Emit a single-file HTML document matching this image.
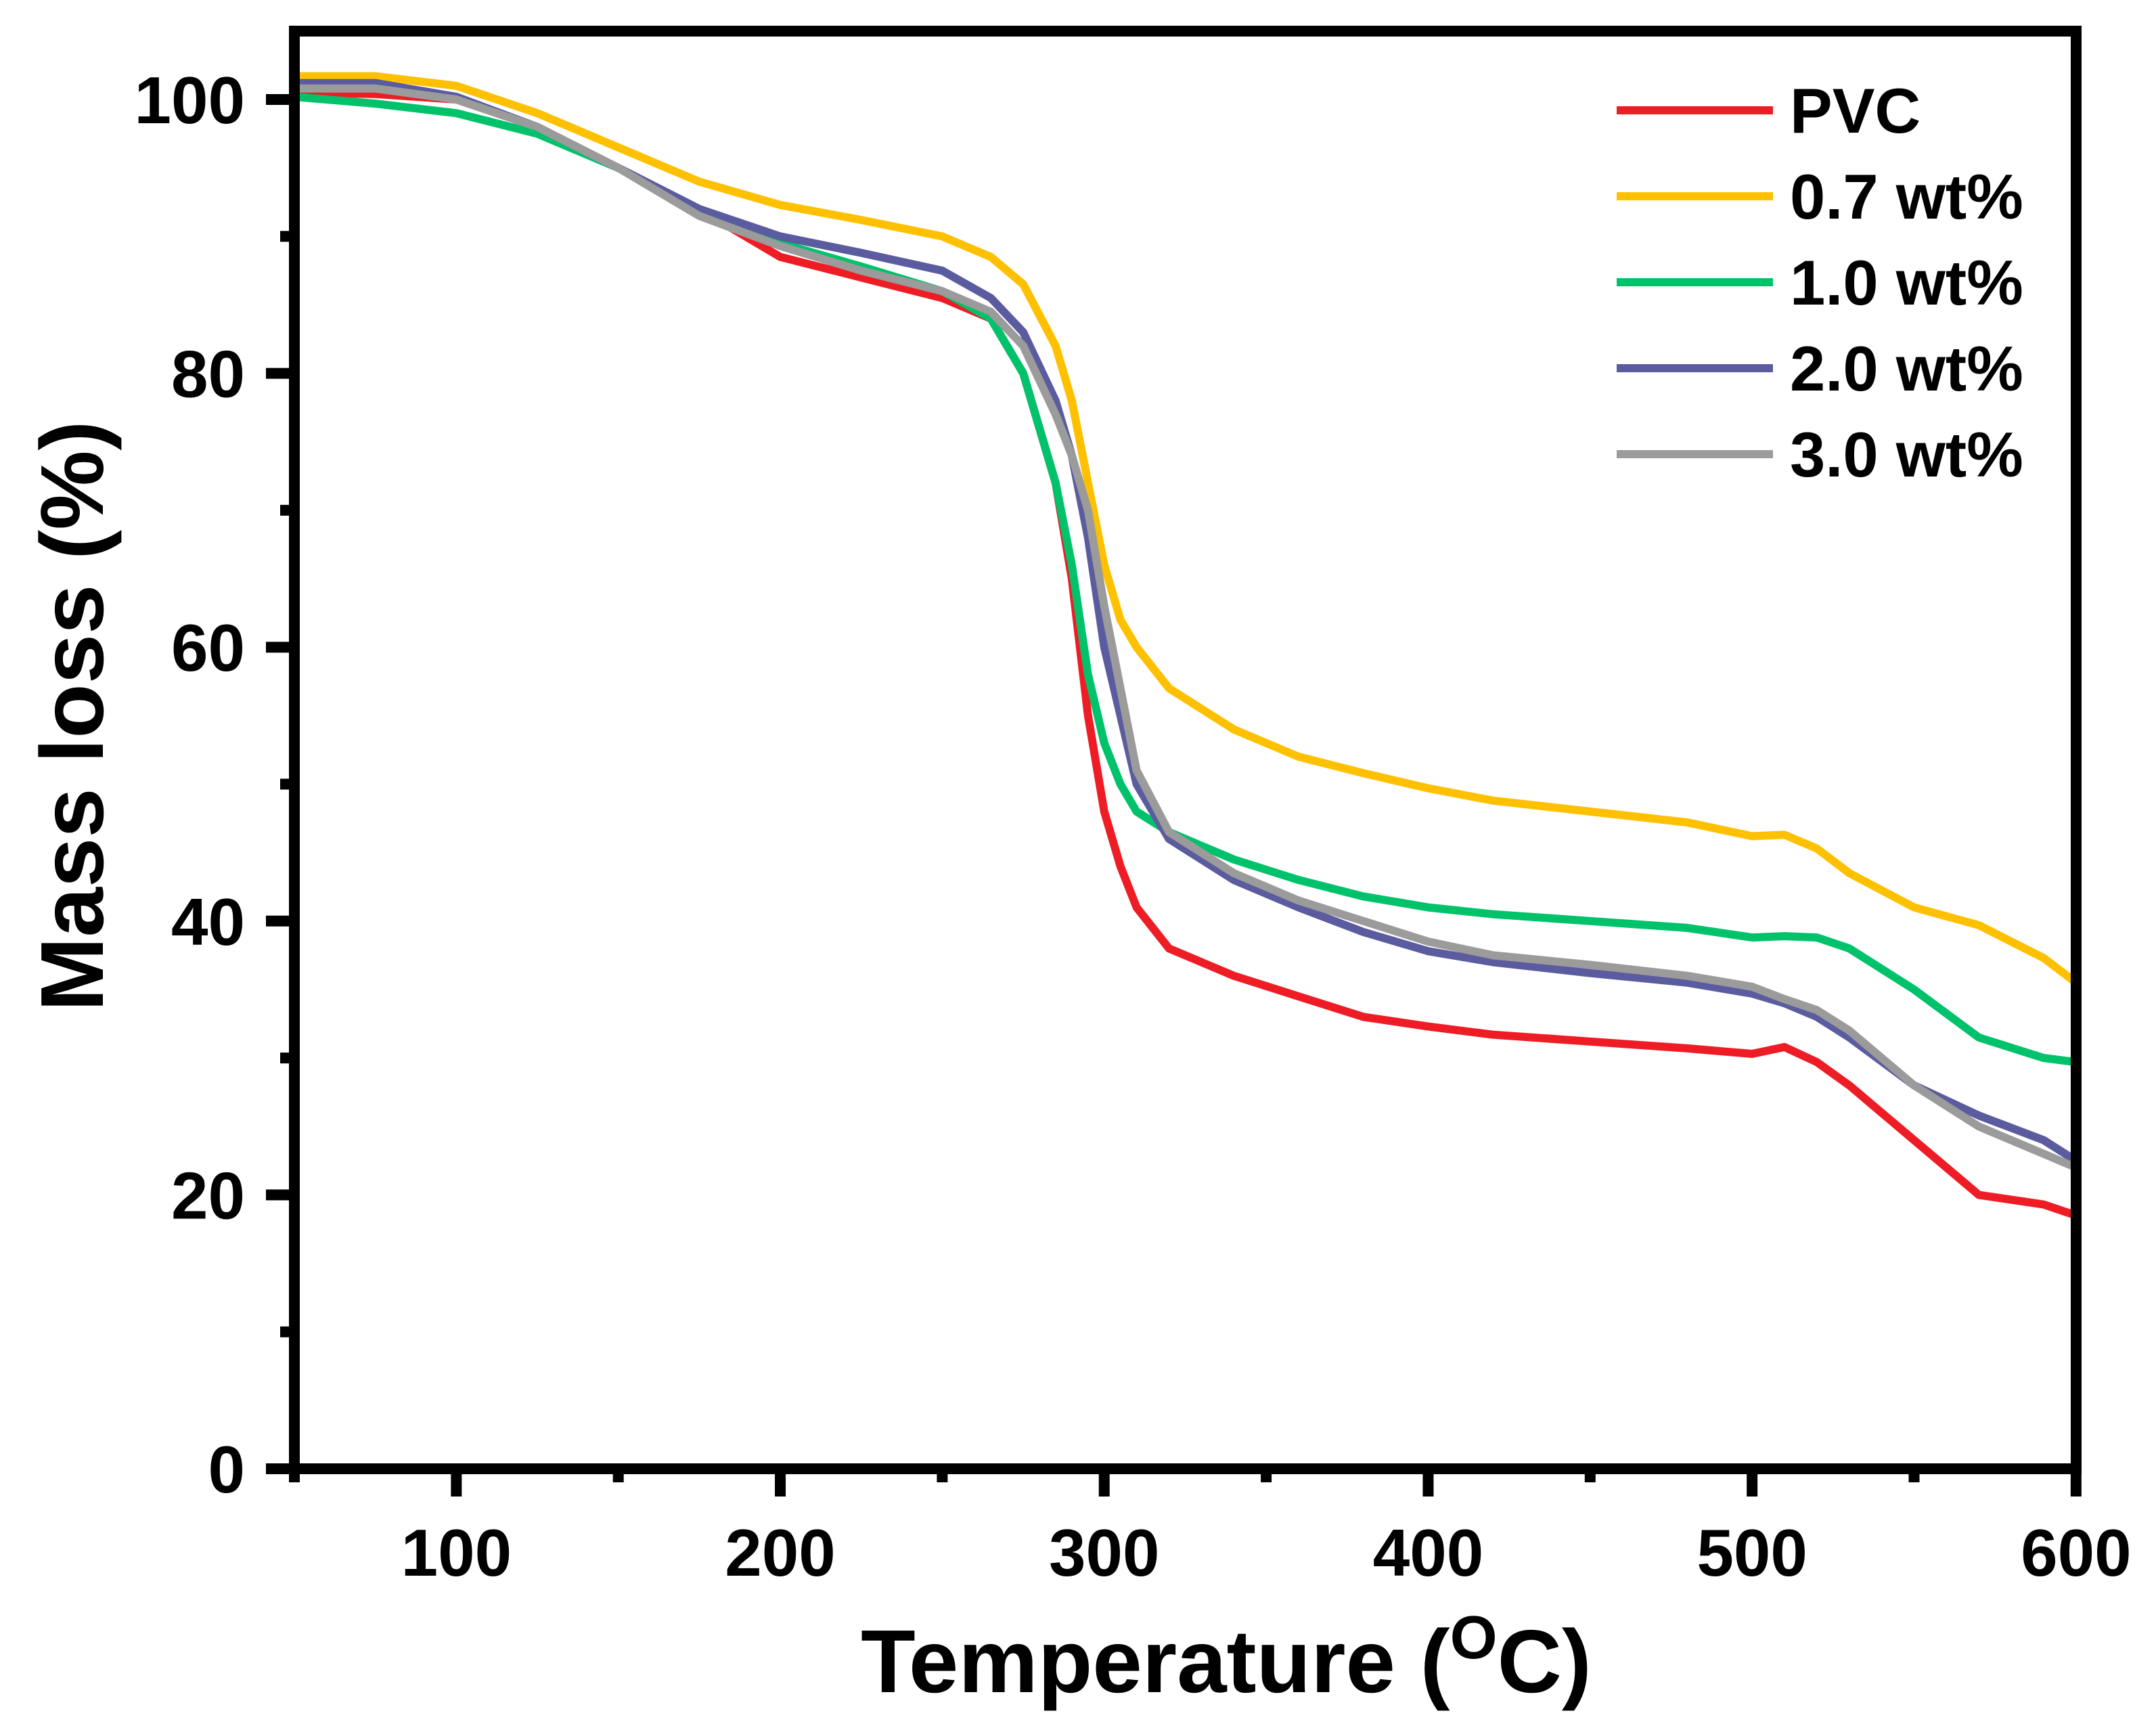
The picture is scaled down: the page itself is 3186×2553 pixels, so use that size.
<!DOCTYPE html>
<html><head><meta charset="utf-8"><style>
html,body{margin:0;padding:0;background:#fff;}
svg{display:block;font-family:"Liberation Sans",Arial,sans-serif;font-weight:bold;}
</style></head><body>
<svg id="chart" width="3186" height="2553" viewBox="0 0 3186 2553" xmlns="http://www.w3.org/2000/svg">
<g id="series"></g>
<g id="axes"></g>
<rect x="435" y="46" width="2633" height="2124" fill="none" stroke="#000" stroke-width="16"/>
<text x="1812" y="2500" font-size="132" text-anchor="middle">Temperature (<tspan font-size="90" dy="-50">O</tspan><tspan dy="50">C)</tspan></text>
<text transform="translate(152,1058) rotate(-90)" font-size="132" text-anchor="middle">Mass loss (%)</text>
<g id="legend"></g>
</svg>
<script>
const temps = [50,75,100,125,150,175,200,225,250,265,275,285,290,295,300,305,310,320,340,360,380,400,420,450,480,500,510,520,530,550,570,590,600];
const seriesNames = ["PVC","0.7 wt%","1.0 wt%","2.0 wt%","3.0 wt%"];
const seriesColors = ["#ee1c25","#ffc000","#00c26b","#5b5b9f","#9b9b9b"];
const pvc   = [100.5,100.4,100,98,95,92,88.5,87,85.5,84,80,72,65,55,48,44,41,38,36,34.5,33,32.3,31.7,31.2,30.7,30.3,30.8,29.7,28,24,20,19.3,18.5];
const wt07  = [101.7,101.7,101,99,96.5,94,92.3,91.2,90,88.5,86.5,82,78,72,66,62,60,57,54,52,50.8,49.7,48.8,48,47.2,46.2,46.3,45.3,43.5,41,39.7,37.3,35.5];
const wt10  = [100.2,99.7,99,97.5,95,92,89.5,87.8,86,84,80,72,66,58,53,50,48,46.5,44.5,43,41.8,41,40.5,40,39.5,38.8,38.9,38.8,38,35,31.5,30,29.7];
const wt20  = [101.2,101.2,100.2,98,95,92,90,88.8,87.5,85.5,83,78,74,68,60,55,50,46,43,41,39.2,37.8,37,36.2,35.5,34.7,34,33,31.5,28,25.8,24,22.5];
const wt30  = [100.8,100.8,100,98,95,91.5,89.3,87.5,86,84.5,82,77,74,70,63,57,51,46.5,43.5,41.5,40,38.5,37.5,36.8,36,35.2,34.3,33.5,32,28,25,23,22];
const xTicks = [100,200,300,400,500,600];
const xMinor = [50,150,250,350,450,550];
const yTicks = [0,20,40,60,80,100];
const yMinor = [10,30,50,70,90];

const NS="http://www.w3.org/2000/svg";
const X = v => 435 + (v-50)*4.787;
const Y = v => 2170 - v*20.23;
const allSeries=[pvc,wt07,wt10,wt20,wt30];
const sg=document.getElementById('series');
allSeries.forEach((s,i)=>{
  const p=document.createElementNS(NS,'path');
  p.setAttribute('d', s.map((v,j)=>(j?'L':'M')+X(temps[j]).toFixed(1)+' '+Y(v).toFixed(1)).join(' '));
  p.setAttribute('fill','none');p.setAttribute('stroke',seriesColors[i]);
  p.setAttribute('stroke-width','12');p.setAttribute('stroke-linejoin','round');
  
  
  sg.appendChild(p);
});
const ag=document.getElementById('axes');
function line(x1,y1,x2,y2,w,name){
  const l=document.createElementNS(NS,'line');
  l.setAttribute('x1',x1);l.setAttribute('y1',y1);l.setAttribute('x2',x2);l.setAttribute('y2',y2);
  l.setAttribute('stroke','#000');l.setAttribute('stroke-width',w);
  
  
  ag.appendChild(l);
}
function text(x,y,t,anchor,size,name){
  const e=document.createElementNS(NS,'text');
  e.setAttribute('x',x);e.setAttribute('y',y);e.setAttribute('text-anchor',anchor);e.setAttribute('font-size',size);
  e.textContent=t;
  
  
  ag.appendChild(e);
}
xTicks.forEach(v=>{line(X(v),2170,X(v),2211,16,'x-tick');text(X(v),2328,String(v),'middle',98,'x-tick-label');});
xMinor.forEach(v=>line(X(v),2170,X(v),2190,16,'x-minor-tick'));
yTicks.forEach(v=>{line(393,Y(v),435,Y(v),16,'y-tick');text(362,Y(v)+35,String(v),'end',98,'y-tick-label');});
yMinor.forEach(v=>line(414,Y(v),435,Y(v),16,'y-minor-tick'));
const lg=document.getElementById('legend');
seriesNames.forEach((n,i)=>{
  const y=163+i*127;
  const l=document.createElementNS(NS,'line');
  l.setAttribute('x1',2389);l.setAttribute('x2',2620);l.setAttribute('y1',y);l.setAttribute('y2',y);
  l.setAttribute('stroke',seriesColors[i]);l.setAttribute('stroke-width','12');
  
  
  lg.appendChild(l);
  const t=document.createElementNS(NS,'text');
  t.setAttribute('x',2645);t.setAttribute('y',y+33);t.setAttribute('font-size','94');
  t.textContent=n;
  
  
  lg.appendChild(t);
});
</script>
</body></html>
